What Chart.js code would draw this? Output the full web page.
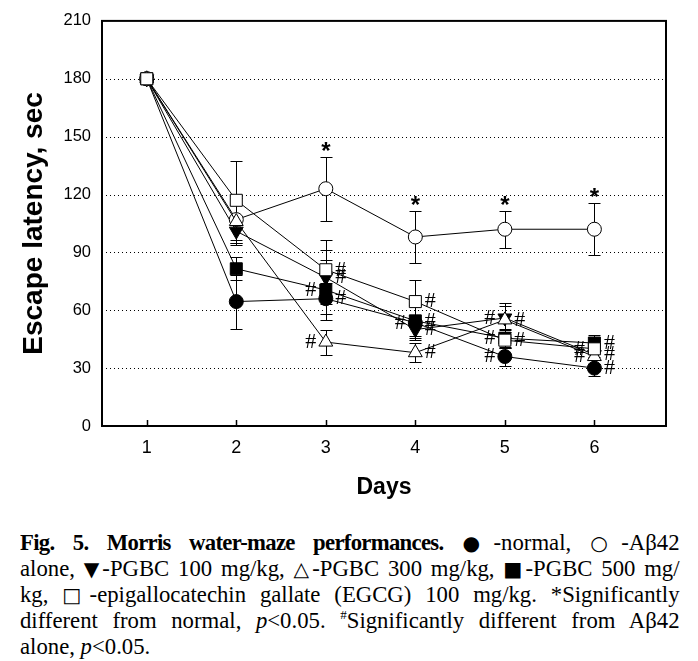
<!DOCTYPE html>
<html>
<head>
<meta charset="utf-8">
<script src="https://cdn.jsdelivr.net/npm/chart.js@4.4.1/dist/chart.umd.min.js"></script>
<style>
  html, body { margin: 0; padding: 0; background: #fff; }
  #wrap { position: relative; width: 698px; height: 661px; overflow: hidden; }
  #chart { position: absolute; left: 0; top: 0; }
  #caption {
    position: absolute; left: 20px; top: 530px; width: 653px;
    transform: scaleX(1.01); transform-origin: 0 0;
    font-family: 'Liberation Serif', 'Times New Roman', serif;
    font-size: 22.5px; line-height: 26px; color: #000;
  }
  #caption div { height: 26px; text-align: justify; text-align-last: justify; }
  #caption div.last { text-align-last: left; }
  #caption b { letter-spacing: -0.7px; }
  #caption sup { font-size: 13px; vertical-align: 9px; line-height: 0; }
  #caption .sym { font-family: 'DejaVu Sans', sans-serif; font-size: 20px; line-height: 0; }
</style>
</head>
<body>
<div id="wrap">
  <canvas id="chart" width="698" height="515"></canvas>
  <div id="caption">
    <div><b>Fig. 5. Morris water-maze performances.</b> <span class="sym">●</span>-normal, <span class="sym">○</span>-Aβ42</div>
    <div>alone, <span class="sym">▼</span>-PGBC 100 mg/kg, <span class="sym">△</span>-PGBC 300 mg/kg, <span class="sym">■</span>-PGBC 500 mg/</div>
    <div>kg, <span class="sym">□</span>-epigallocatechin gallate (EGCG) 100 mg/kg. *Significantly</div>
    <div>different from normal, <i>p</i>&lt;0.05. <sup>#</sup>Significantly different from Aβ42</div>
    <div class="last">alone, <i>p</i>&lt;0.05.</div>
  </div>
</div>
<script>
// ─── Data ───
const days = [1, 2, 3, 4, 5, 6];
const yTicks = [0, 30, 60, 90, 120, 150, 180, 210];
const gridValues = [30, 60, 90, 120, 150, 180];

const normal     = [180, 64.5, 66, 53.5, 36, 30];
const normalErr  = [0, 14, 8, 9, 5, 4];
const normalHash = ['', '', 'R', 'L', 'L', 'R'];

const abeta      = [180, 107, 123, 98, 102, 102];
const abetaErr   = [0, 12, 16.5, 13.5, 9.7, 13.4];
const abetaStar  = [false, false, true, true, true, true];

const pgbc100     = [180, 101, 77, 50, 56, 37];
const pgbc100Err  = [0, 6, 14, 4.5, 6, 5];
const pgbc100Hash = ['', '', 'R', 'R', 'L', 'R'];

const pgbc300     = [180, 106, 43.5, 38, 55, 36];
const pgbc300Err  = [0, 12, 6.5, 5, 9, 4];
const pgbc300Hash = ['', '', 'L', 'R', 'R', 'L'];

const pgbc500     = [180, 81.5, 70.5, 54.5, 45.5, 43];
const pgbc500Err  = [0, 6, 15.5, 8, 5, 4];
const pgbc500Hash = ['', '', 'L', 'R', 'L', 'R'];

const egcg     = [180, 117, 81, 64.5, 44.5, 40];
const egcgErr  = [0, 20.6, 15.5, 11, 4, 4];
const egcgHash = ['', '', 'R', 'R', 'R', 'L'];

const SANS = "'Liberation Sans', Arial, sans-serif";
const SERIF = "'Liberation Serif', 'Times New Roman', serif";

// ─── Dataset builder ───
function series(label, vals, errs, hash, style, fill, radius, rotation) {
    return {
        label,
        data: days.map((d, i) => ({ x: d, y: vals[i] })),
        errors: errs,
        hash: hash || [],
        borderColor: '#000',
        borderWidth: 1,
        tension: 0,
        fill: false,
        pointStyle: style,
        pointRadius: radius,
        pointRotation: rotation || 0,
        pointBackgroundColor: fill,
        pointBorderColor: '#000',
        pointBorderWidth: 1
    };
}

// open markers first so they sit on top of the filled ones
const datasets = [
    series('EGCG 100 mg/kg', egcg, egcgErr, egcgHash, 'rect', '#fff', 8.5),
    series('PGBC 300 mg/kg', pgbc300, pgbc300Err, pgbc300Hash, 'triangle', '#fff', 8),
    series('Aβ42 alone', abeta, abetaErr, null, 'circle', '#fff', 7),
    series('PGBC 500 mg/kg', pgbc500, pgbc500Err, pgbc500Hash, 'rect', '#000', 8.5),
    series('PGBC 100 mg/kg', pgbc100, pgbc100Err, pgbc100Hash, 'triangle', '#000', 8, 180),
    series('normal', normal, normalErr, normalHash, 'circle', '#000', 7)
];

// ─── Dotted grid + error bars (under the markers) ───
const errorBars = {
    id: 'errorBars',
    beforeDatasetsDraw(chart) {
        const { ctx, chartArea: a, scales: { x, y } } = chart;
        ctx.save();
        ctx.strokeStyle = '#000';
        ctx.lineWidth = 1;

        ctx.setLineDash([1, 3]);
        gridValues.forEach(v => {
            const py = Math.round(y.getPixelForValue(v)) + 0.5;
            ctx.beginPath();
            ctx.moveTo(a.left, py);
            ctx.lineTo(a.right, py);
            ctx.stroke();
        });
        ctx.setLineDash([]);

        chart.data.datasets.forEach(ds => {
            ds.data.forEach((p, i) => {
                const e = ds.errors[i];
                if (!e) return;
                const px = Math.round(x.getPixelForValue(p.x)) + 0.5;
                const top = Math.round(y.getPixelForValue(p.y + e)) + 0.5;
                const bot = Math.round(y.getPixelForValue(p.y - e)) + 0.5;
                ctx.beginPath();
                ctx.moveTo(px, top); ctx.lineTo(px, bot);
                ctx.moveTo(px - 6, top); ctx.lineTo(px + 6, top);
                ctx.moveTo(px - 6, bot); ctx.lineTo(px + 6, bot);
                ctx.stroke();
            });
        });
        ctx.restore();
    }
};

// ─── Frame, inward ticks, significance marks ───
const decorations = {
    id: 'decorations',
    afterDatasetsDraw(chart) {
        const { ctx, chartArea: a, scales: { x, y } } = chart;
        ctx.save();
        ctx.strokeStyle = '#000';

        ctx.lineWidth = 1.5;
        days.forEach(d => {
            const px = Math.round(x.getPixelForValue(d)) + 0.5;
            ctx.beginPath();
            ctx.moveTo(px, a.bottom);
            ctx.lineTo(px, a.bottom - 6);
            ctx.stroke();
        });

        ctx.lineWidth = 2;
        ctx.strokeRect(a.left, a.top, a.right - a.left, a.bottom - a.top);

        ctx.fillStyle = '#000';
        ctx.textAlign = 'center';

        // * above the Aβ42 error bars
        ctx.font = 'bold 24px ' + SANS;
        ctx.textBaseline = 'alphabetic';
        abeta.forEach((v, i) => {
            if (!abetaStar[i]) return;
            const px = x.getPixelForValue(days[i]);
            const py = y.getPixelForValue(v + abetaErr[i]);
            ctx.fillText('*', px, py + 2);
        });

        // # beside points
        ctx.font = '22px ' + SERIF;
        ctx.textBaseline = 'middle';
        chart.data.datasets.forEach(ds => {
            ds.hash.forEach((side, i) => {
                if (!side) return;
                const px = x.getPixelForValue(days[i]);
                const py = y.getPixelForValue(ds.data[i].y);
                ctx.fillText('#', px + (side === 'R' ? 15 : -15), py);
            });
        });
        ctx.restore();
    }
};

new Chart(document.getElementById('chart'), {
    type: 'line',
    data: { datasets },
    options: {
        responsive: false,
        animation: false,
        devicePixelRatio: 1,
        layout: { padding: { top: 19, right: 32, left: 0, bottom: 0 } },
        plugins: { legend: { display: false }, tooltip: { enabled: false } },
        scales: {
            x: {
                type: 'linear',
                min: 0.5,
                max: 6.8,
                afterFit(scale) { scale.height = 515 - 426; },
                afterBuildTicks(scale) { scale.ticks = days.map(d => ({ value: d })); },
                grid: { display: false, drawTicks: false },
                border: { display: false },
                ticks: {
                    padding: 11,
                    color: '#000',
                    font: { family: SANS, size: 18 },
                    maxRotation: 0
                },
                title: {
                    display: true,
                    text: 'Days',
                    color: '#000',
                    font: { family: SANS, size: 23, weight: 'bold' },
                    padding: { top: 0, bottom: 14 }
                }
            },
            y: {
                min: 0,
                max: 210,
                afterFit(scale) { scale.width = 102; },
                afterBuildTicks(scale) { scale.ticks = yTicks.map(v => ({ value: v })); },
                grid: { display: false, drawTicks: false },
                border: { display: false },
                ticks: {
                    padding: 11,
                    color: '#000',
                    font: { family: SANS, size: 16.5 }
                },
                title: {
                    display: true,
                    text: 'Escape latency, sec',
                    color: '#000',
                    font: { family: SANS, size: 28, weight: 'bold' },
                    padding: { top: 17, bottom: 0 }
                }
            }
        }
    },
    plugins: [errorBars, decorations]
});
</script>
</body>
</html>
